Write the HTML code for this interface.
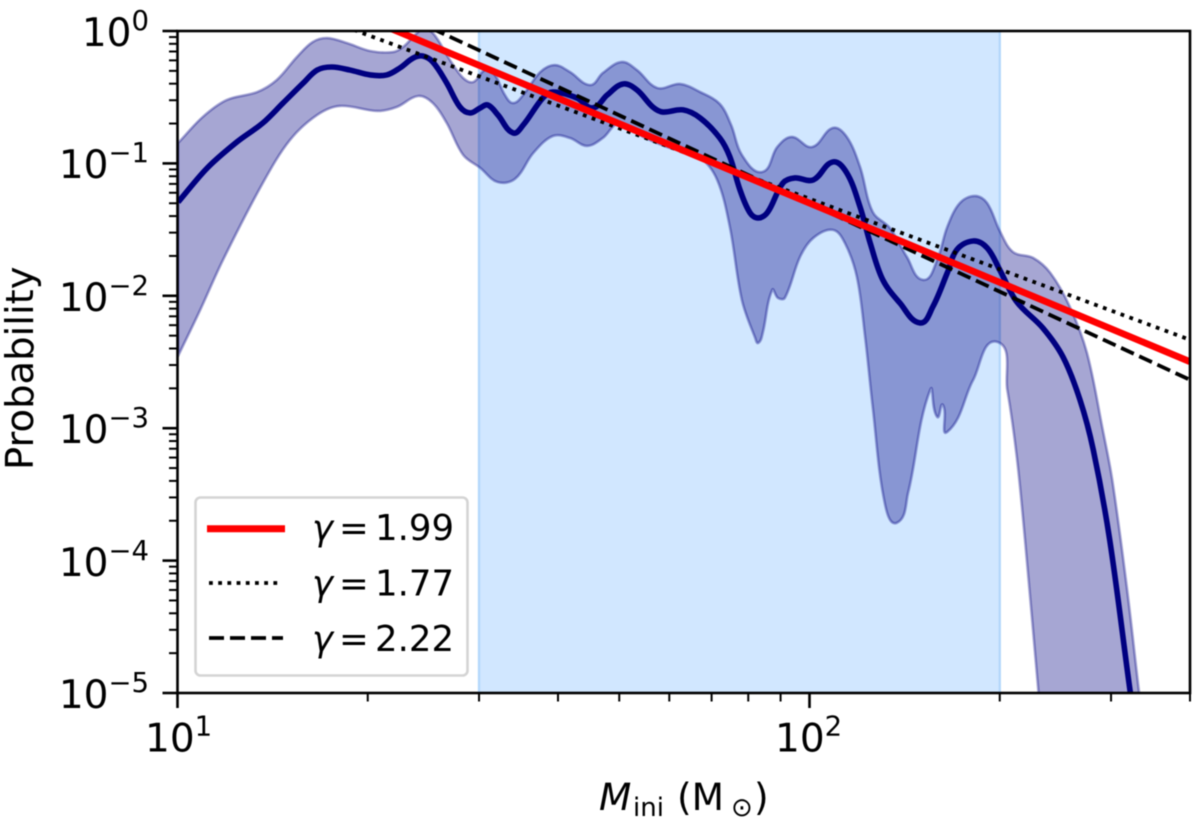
<!DOCTYPE html>
<html>
<head>
<meta charset="utf-8">
<title>Probability vs initial mass</title>
<style>
html,body{margin:0;padding:0;background:#fff;}
svg{display:block;filter:blur(0.5px);}
text{font-family:"DejaVu Sans","Liberation Sans",sans-serif;fill:#000;}
</style>
</head>
<body>
<svg id="chart" width="1200" height="828" viewBox="0 0 1200 828" xmlns="http://www.w3.org/2000/svg">
  <defs><clipPath id="plot-clip"><rect x="177.5" y="31" width="1012.5" height="662"/></clipPath></defs>
  <rect width="1200" height="828" fill="#fff"/>
  <g id="marks" clip-path="url(#plot-clip)"></g>
  <g id="ticks"></g>
  <rect x="177.5" y="31" width="1012.5" height="662" fill="none" stroke="#000" stroke-width="2.6"/>

  <g font-size="39" text-anchor="end">
    <text x="149" y="46">10<tspan dy="-16" font-size="27.5">0</tspan></text>
    <text x="149" y="178">10<tspan dy="-16" font-size="27.5">−1</tspan></text>
    <text x="149" y="311">10<tspan dy="-16" font-size="27.5">−2</tspan></text>
    <text x="149" y="443">10<tspan dy="-16" font-size="27.5">−3</tspan></text>
    <text x="149" y="576">10<tspan dy="-16" font-size="27.5">−4</tspan></text>
    <text x="149" y="708">10<tspan dy="-16" font-size="27.5">−5</tspan></text>
  </g>
  <g font-size="39">
    <text x="145" y="751.5">10<tspan dy="-16" font-size="27.5">1</tspan></text>
    <text x="775" y="751.5">10<tspan dy="-16" font-size="27.5">2</tspan></text>
  </g>

  <text transform="translate(33,470) rotate(-90)" font-size="38.5">Probability</text>
  <text x="599" y="810" font-size="37.5"><tspan font-style="italic">M</tspan><tspan x="633" y="816" font-size="26">ini</tspan><tspan x="677" y="810">(M</tspan><tspan x="731" y="816" font-size="26">⊙</tspan><tspan x="754" y="810">)</tspan></text>

  <g>
    <rect x="195.5" y="497.5" width="272" height="178" rx="5" fill="#fff" fill-opacity="0.9" stroke="#d4d4d4" stroke-width="2.6"/>
    <line x1="207" y1="528.7" x2="285" y2="528.7" stroke="#ff0000" stroke-width="7"/>
    <line x1="209" y1="583" x2="280" y2="583" stroke="#000" stroke-width="3.8" stroke-dasharray="3.8 5.4"/>
    <line x1="209" y1="638" x2="283" y2="638" stroke="#000" stroke-width="3.8" stroke-dasharray="15 6"/>
    <g font-size="35.5">
      <text x="312" y="540"><tspan font-style="italic">γ</tspan><tspan x="339">=</tspan><tspan x="375">1.99</tspan></text>
      <text x="312" y="595.5"><tspan font-style="italic">γ</tspan><tspan x="339">=</tspan><tspan x="375">1.77</tspan></text>
      <text x="312" y="651"><tspan font-style="italic">γ</tspan><tspan x="339">=</tspan><tspan x="375">2.22</tspan></text>
    </g>
  </g>
</svg>
<script>
// All series values are log10 (mass in Msun) and log10 (probability).
const medianLogMass = [1.001,1.047,1.094,1.135,1.167,1.199,1.221,1.244,1.273,1.305,1.331,1.352,1.373,1.388,1.404,1.426,1.447,1.463,1.479,1.491,1.507,1.531,1.547,1.578,1.594,1.632,1.657,1.680,1.705,1.727,1.752,1.768,1.800,1.827,1.858,1.874,1.890,1.906,1.919,1.934,1.958,1.977,2.006,2.037,2.059,2.080,2.096,2.116,2.143,2.175,2.195,2.218,2.233,2.259,2.281,2.301,2.328,2.369,2.401,2.428,2.449,2.475,2.507,2.512];
const medianLogProb = [-1.292,-1.035,-0.838,-0.695,-0.544,-0.393,-0.295,-0.272,-0.295,-0.332,-0.332,-0.279,-0.204,-0.189,-0.234,-0.393,-0.574,-0.619,-0.581,-0.559,-0.634,-0.770,-0.710,-0.506,-0.461,-0.506,-0.581,-0.483,-0.400,-0.445,-0.574,-0.612,-0.596,-0.657,-0.808,-0.951,-1.200,-1.374,-1.412,-1.367,-1.148,-1.110,-1.125,-0.989,-1.072,-1.329,-1.601,-1.880,-2.054,-2.205,-2.084,-1.827,-1.653,-1.586,-1.638,-1.804,-2.046,-2.242,-2.461,-2.786,-3.163,-3.843,-4.975,-5.126];

const upperLogMass = [1.001,1.040,1.078,1.126,1.157,1.189,1.214,1.237,1.268,1.305,1.341,1.357,1.379,1.388,1.404,1.431,1.452,1.468,1.487,1.502,1.518,1.531,1.547,1.574,1.597,1.621,1.653,1.673,1.703,1.727,1.759,1.795,1.827,1.858,1.876,1.893,1.925,1.949,1.972,2.004,2.037,2.059,2.080,2.100,2.127,2.154,2.180,2.202,2.218,2.238,2.262,2.281,2.301,2.322,2.354,2.381,2.412,2.439,2.464,2.479,2.502,2.521,2.525];
const upperLogProb = [-0.846,-0.649,-0.521,-0.461,-0.370,-0.196,-0.083,-0.053,-0.091,-0.151,-0.159,-0.121,-0.015,0.008,-0.015,-0.219,-0.355,-0.385,-0.295,-0.332,-0.483,-0.544,-0.483,-0.310,-0.257,-0.310,-0.408,-0.317,-0.234,-0.295,-0.430,-0.400,-0.461,-0.551,-0.710,-0.936,-1.065,-0.876,-0.800,-0.876,-0.732,-0.800,-1.027,-1.367,-1.487,-1.706,-1.880,-1.729,-1.480,-1.299,-1.246,-1.299,-1.510,-1.669,-1.714,-1.827,-2.084,-2.431,-3.012,-3.390,-4.198,-4.975,-5.126];

const lowerLogMass = [1.001,1.036,1.072,1.135,1.178,1.221,1.257,1.316,1.347,1.381,1.404,1.426,1.452,1.479,1.506,1.534,1.563,1.594,1.621,1.648,1.673,1.700,1.737,1.775,1.827,1.854,1.874,1.893,1.914,1.919,1.926,1.941,1.950,1.961,1.985,2.006,2.037,2.056,2.075,2.088,2.100,2.119,2.138,2.156,2.191,2.202,2.211,2.218,2.259,2.297,2.313,2.328,2.341,2.362,2.365];
const lowerLogProb = [-2.454,-2.106,-1.729,-1.148,-0.823,-0.634,-0.566,-0.604,-0.574,-0.491,-0.544,-0.695,-0.936,-1.034,-1.140,-1.117,-0.921,-0.793,-0.808,-0.868,-0.808,-0.695,-0.800,-0.876,-0.959,-1.125,-1.480,-2.031,-2.318,-2.356,-2.280,-1.955,-2.016,-2.016,-1.706,-1.563,-1.502,-1.601,-1.857,-2.310,-2.839,-3.564,-3.715,-3.488,-2.710,-2.914,-2.824,-3.028,-2.635,-2.348,-2.710,-3.216,-3.843,-4.975,-5.126];

// Power-law fits, end values at the two limits of the mass axis
const fitMasses = [10, 400];
const fitGamma199 = [4.90, 0.00318];
const fitGamma177 = [3.18, 0.00465];
const fitGamma222 = [8.13, 0.00232];

// Shaded fitting range (Msun)
const fitRange = [30, 200];

// Axis limits and ticks
const xLimits = [10, 400];
const yLimits = [1e-5, 1];
const xMajorTicks = [10, 100];
const xMinorTicks = [20, 30, 40, 50, 60, 70, 80, 90, 200, 300, 400];
const yMajorExponents = [0, -1, -2, -3, -4, -5];
const yMinorFactors = [2, 3, 4, 5, 6, 7, 8, 9];

const NS = 'http://www.w3.org/2000/svg';
const plot = {left: 177.5, right: 1190, top: 31, bottom: 693};

function xFromLog(v) {
  const a = Math.log10(xLimits[0]), b = Math.log10(xLimits[1]);
  return plot.left + (v - a) / (b - a) * (plot.right - plot.left);
}
function yFromLog(v) {
  const a = Math.log10(yLimits[0]), b = Math.log10(yLimits[1]);
  return plot.bottom - (v - a) / (b - a) * (plot.bottom - plot.top);
}
function xScale(m) { return xFromLog(Math.log10(m)); }
function yScale(p) { return yFromLog(Math.log10(p)); }

function toPoints(xs, ys) {
  return xs.map(function (x, i) { return [xFromLog(x), yFromLog(ys[i])]; });
}
function tangentAt(pts, i) {
  const a = pts[Math.max(i - 1, 0)], b = pts[Math.min(i + 1, pts.length - 1)];
  const dx = b[0] - a[0], dy = b[1] - a[1];
  const len = Math.hypot(dx, dy) || 1;
  return [dx / len, dy / len];
}
function smoothSegments(pts) {
  let d = '';
  for (let i = 0; i < pts.length - 1; i++) {
    const p1 = pts[i], p2 = pts[i + 1];
    const seg = Math.hypot(p2[0] - p1[0], p2[1] - p1[1]) * 0.34;
    const t1 = tangentAt(pts, i), t2 = tangentAt(pts, i + 1);
    d += 'C' + (p1[0] + t1[0] * seg).toFixed(2) + ' ' + (p1[1] + t1[1] * seg).toFixed(2) + ' ' + (p2[0] - t2[0] * seg).toFixed(2) + ' ' + (p2[1] - t2[1] * seg).toFixed(2) + ' ' + p2[0].toFixed(2) + ' ' + p2[1].toFixed(2);
  }
  return d;
}
function svgEl(tag, attrs) {
  const el = document.createElementNS(NS, tag);
  for (const key in attrs) el.setAttribute(key, attrs[key]);
  return el;
}

const marks = document.getElementById('marks');
const ticks = document.getElementById('ticks');

// fit range span
const spanRect = svgEl('rect', {x: xScale(fitRange[0]), y: plot.top, width: xScale(fitRange[1]) - xScale(fitRange[0]), height: plot.bottom - plot.top, fill: '#d1e7ff', stroke: '#b4d8fb', 'stroke-width': 2.4});


marks.appendChild(spanRect);

// confidence band
const upperPts = toPoints(upperLogMass, upperLogProb);
const lowerPts = toPoints(lowerLogMass, lowerLogProb).reverse();
const bandD = 'M' + upperPts[0][0].toFixed(2) + ' ' + upperPts[0][1].toFixed(2) + smoothSegments(upperPts) + 'L' + lowerPts[0][0].toFixed(2) + ' ' + lowerPts[0][1].toFixed(2) + smoothSegments(lowerPts) + 'Z';
const band = svgEl('path', {d: bandD, fill: '#000080', 'fill-opacity': 0.35, stroke: 'none'});


marks.appendChild(band);
const bandEdge = svgEl('path', {d: bandD, fill: 'none', stroke: '#000080', 'stroke-opacity': 0.35, 'stroke-width': 2.6, 'stroke-linejoin': 'round'});


marks.appendChild(bandEdge);

// median curve
const medianPts = toPoints(medianLogMass, medianLogProb);
const median = svgEl('path', {d: 'M' + medianPts[0][0].toFixed(2) + ' ' + medianPts[0][1].toFixed(2) + smoothSegments(medianPts), fill: 'none', stroke: '#000080', 'stroke-width': 5.6, 'stroke-linejoin': 'round'});


marks.appendChild(median);

// power-law fits
const dashedFit = svgEl('line', {x1: xScale(fitMasses[0]), y1: yScale(fitGamma222[0]), x2: xScale(fitMasses[1]), y2: yScale(fitGamma222[1]), stroke: '#000', 'stroke-width': 3.8, 'stroke-dasharray': '14 6'});


marks.appendChild(dashedFit);

const dottedFit = svgEl('line', {x1: xScale(fitMasses[0]), y1: yScale(fitGamma177[0]), x2: xScale(fitMasses[1]), y2: yScale(fitGamma177[1]), stroke: '#000', 'stroke-width': 3.8, 'stroke-dasharray': '3.8 5.6'});


marks.appendChild(dottedFit);

const redFit = svgEl('line', {x1: xScale(fitMasses[0]), y1: yScale(fitGamma199[0]), x2: xScale(fitMasses[1]), y2: yScale(fitGamma199[1]), stroke: '#ff0000', 'stroke-width': 6.8});


marks.appendChild(redFit);

// ticks
xMajorTicks.forEach(function (m) {
  const t = svgEl('line', {x1: xScale(m), x2: xScale(m), y1: plot.bottom, y2: plot.bottom + 15, stroke: '#000', 'stroke-width': 2.6});
  
  
  ticks.appendChild(t);
});
xMinorTicks.forEach(function (m) {
  const t = svgEl('line', {x1: xScale(m), x2: xScale(m), y1: plot.bottom, y2: plot.bottom + 8.5, stroke: '#000', 'stroke-width': 2});
  
  
  ticks.appendChild(t);
});
yMajorExponents.forEach(function (e) {
  const t = svgEl('line', {x1: plot.left - 15, x2: plot.left, y1: yFromLog(e), y2: yFromLog(e), stroke: '#000', 'stroke-width': 2.6});
  
  
  ticks.appendChild(t);
  if (e > -5) {
    yMinorFactors.forEach(function (f) {
      const p = f * Math.pow(10, e - 1);
      const mt = svgEl('line', {x1: plot.left - 8.5, x2: plot.left, y1: yScale(p), y2: yScale(p), stroke: '#000', 'stroke-width': 2});
      
      
      ticks.appendChild(mt);
    });
  }
});
</script>
</body>
</html>
